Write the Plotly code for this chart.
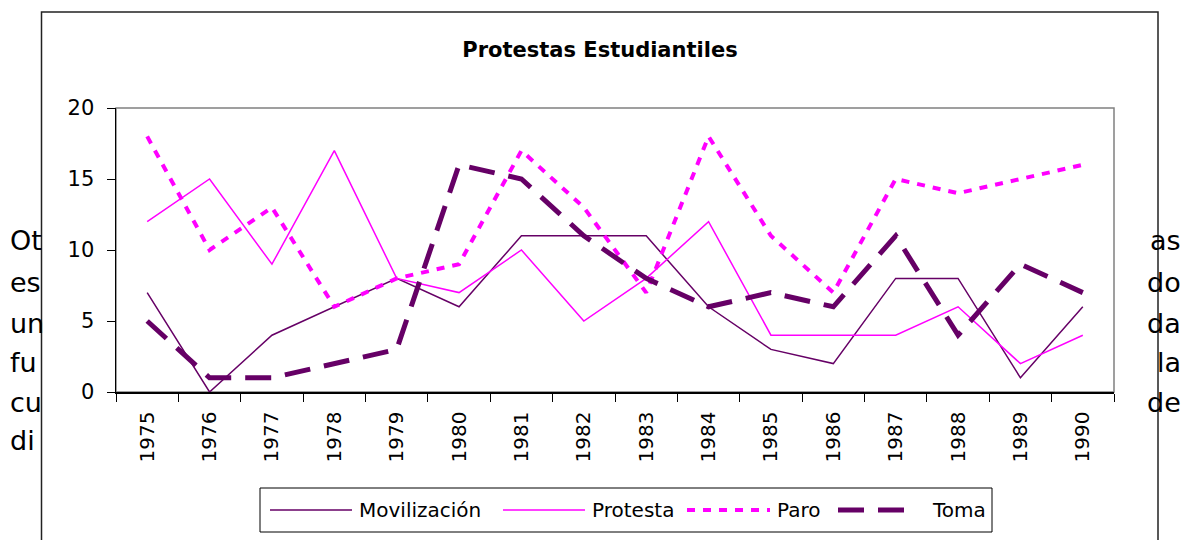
import plotly.graph_objects as go

# ---------------- data ----------------
years = ["1975", "1976", "1977", "1978", "1979", "1980", "1981", "1982",
         "1983", "1984", "1985", "1986", "1987", "1988", "1989", "1990"]
movilizacion = [7, 0, 4, 6, 8, 6, 11, 11, 11, 6, 3, 2, 8, 8, 1, 6]
protesta = [12, 15, 9, 17, 8, 7, 10, 5, 8, 12, 4, 4, 4, 6, 2, 4]
paro = [18, 10, 13, 6, 8, 9, 17, 13, 7, 18, 11, 7, 15, 14, 15, 16]
toma = [5, 1, 1, 2, 3, 16, 15, 11, 8, 6, 7, 6, 11, 4, 9, 7]
series_names = ["Movilización", "Protesta", "Paro", "Toma"]
title_text = "Protestas Estudiantiles"
left_frag = ["Ot", "es", "un", "fu", "cu", "di"]
right_frag = ["as", "do", "da", "la", "de"]

# ---------------- layout constants (pixels) ----------------
W, H = 1188, 540
PL, PR, PT, PB = 116, 1114, 108, 392
FONT = "Comic Sans MS, DejaVu Sans, sans-serif"
DARK = "#660066"
MAG = "#FF00FF"


def px(x):
    return (x - PL) / (PR - PL)


def py(y):
    return (PB - y) / (PB - PT)


styles = [
    dict(color=DARK, width=1.5, dash="solid"),
    dict(color=MAG, width=1.5, dash="solid"),
    dict(color=MAG, width=4, dash="8px,8px"),
    dict(color=DARK, width=5, dash="26px,14px"),
]

fig = go.Figure()
for name, vals, st in zip(series_names, [movilizacion, protesta, paro, toma], styles):
    fig.add_trace(go.Scatter(x=years, y=vals, mode="lines", name=name,
                             line=st, showlegend=False, cliponaxis=False,
                             hoverinfo="skip"))

shapes = []
annotations = []

# outer chart frame
shapes.append(dict(type="rect", xref="paper", yref="paper",
                   x0=px(41.5), x1=px(1158), y0=py(560), y1=py(12),
                   line=dict(color="#222222", width=1.5), layer="below"))
# plot area gray frame
shapes.append(dict(type="rect", xref="paper", yref="paper",
                   x0=0, x1=1, y0=0, y1=1,
                   line=dict(color="#808080", width=1.5), layer="below"))

# custom legend
shapes.append(dict(type="rect", xref="paper", yref="paper",
                   x0=px(260), x1=px(992), y0=py(532), y1=py(488),
                   line=dict(color="#000000", width=1), fillcolor="white"))
leg_y = py(510)
leg_items = [(270, 352, 357), (503, 585, 590), (687, 770, 775), (838, 912, 930)]
for name, st, (l0, l1, tx) in zip(series_names, styles, leg_items):
    shapes.append(dict(type="line", xref="paper", yref="paper",
                       x0=px(l0), x1=px(l1), y0=leg_y, y1=leg_y,
                       line=dict(color=st["color"], width=st["width"], dash=st["dash"])))
    annotations.append(dict(text=name, xref="paper", yref="paper", x=px(tx), y=leg_y,
                            xanchor="left", yanchor="middle", showarrow=False,
                            font=dict(family=FONT, size=20, color="black")))

# background document text fragments
ys_left = [240, 282, 323, 362, 402, 440]
for t, yy in zip(left_frag, ys_left):
    annotations.append(dict(text=t, xref="paper", yref="paper", x=px(8), y=py(yy),
                            xanchor="left", yanchor="middle", showarrow=False,
                            font=dict(family=FONT, size=27, color="black")))
ys_right = [240, 282, 323, 362, 402]
for t, yy in zip(right_frag, ys_right):
    annotations.append(dict(text=t, xref="paper", yref="paper", x=px(1183), y=py(yy),
                            xanchor="right", yanchor="middle", showarrow=False,
                            font=dict(family=FONT, size=27, color="black")))

fig.update_layout(
    width=W, height=H,
    margin=dict(l=PL, r=W - PR, t=PT, b=H - PB),
    paper_bgcolor="white", plot_bgcolor="white",
    title=dict(text="<b>" + title_text + "</b>", xref="paper", x=px(600), xanchor="center",
               yref="container", y=1 - 50 / H, yanchor="middle",
               font=dict(family=FONT, size=21, color="black")),
    shapes=shapes, annotations=annotations,
    showlegend=False,
)
fig.update_xaxes(type="category", range=[-0.5, 15.5], tickson="boundaries",
                 ticks="outside", ticklen=8, tickcolor="black", tickwidth=1,
                 showline=True, linecolor="black", linewidth=1.5,
                 showgrid=False, zeroline=False, tickangle=-90,
                 ticklabelstandoff=10,
                 tickfont=dict(family=FONT, size=20, color="black"))
fig.update_yaxes(range=[0, 20], dtick=5, ticks="outside", ticklen=8,
                 tickcolor="black", tickwidth=1,
                 showline=True, linecolor="black", linewidth=1.5,
                 showgrid=False, zeroline=False, ticklabelstandoff=8,
                 tickfont=dict(family=FONT, size=21, color="black"))

fig.write_html("out.html", config={"displayModeBar": False, "staticPlot": True},
               post_script="document.body.style.margin='0px';document.body.style.overflow='hidden';")
